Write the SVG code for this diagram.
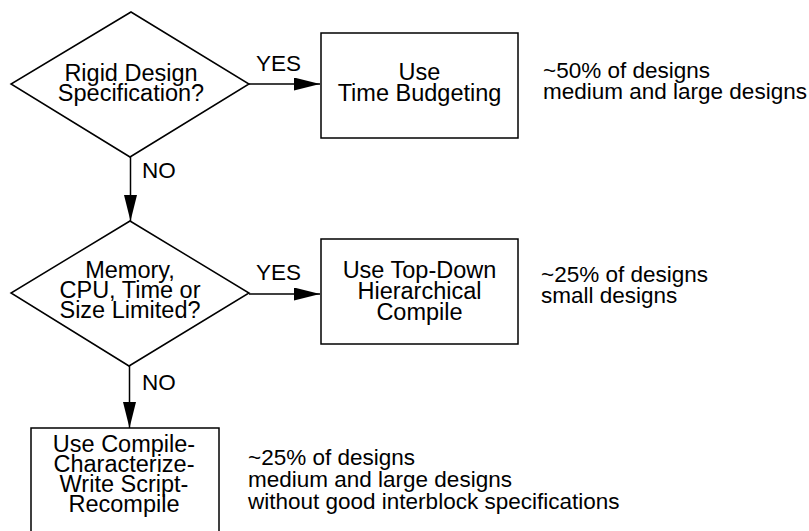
<svg xmlns="http://www.w3.org/2000/svg" width="809" height="531" viewBox="0 0 809 531">
<style>
text{font-family:"Liberation Sans",Arial,Helvetica,sans-serif;font-size:22.5px;fill:#000}
.c{text-anchor:middle;font-size:23.5px}
.shape{fill:#fff;stroke:#000;stroke-width:1.5}
.edge{stroke:#000;stroke-width:1.5;fill:none}
</style>
<defs>
<marker id="ah" markerUnits="userSpaceOnUse" markerWidth="27" markerHeight="14" refX="26" refY="6.5" orient="auto">
<path d="M0,0 L26,6.5 L0,13 z" fill="#000"/>
</marker>
</defs>
<rect width="809" height="531" fill="#fff"/>
<g id="connectors">
<line class="edge" x1="249" y1="84" x2="320" y2="84" marker-end="url(#ah)"/>
<line class="edge" x1="130.5" y1="157" x2="130.5" y2="221" marker-end="url(#ah)"/>
<line class="edge" x1="249" y1="294" x2="320" y2="294" marker-end="url(#ah)"/>
<line class="edge" x1="129.5" y1="366" x2="129.5" y2="428" marker-end="url(#ah)"/>
<text x="256" y="71">YES</text>
<text x="142" y="178">NO</text>
<text x="256" y="280">YES</text>
<text x="142" y="390">NO</text>
</g>
<g id="d1">
<polygon class="shape" points="131,12 249,84 130,157 11,84"/>
<text class="c" x="131" y="81">Rigid Design</text>
<text class="c" x="131" y="101">Specification?</text>
</g>
<g id="b1">
<rect class="shape" x="321" y="33" width="197" height="105"/>
<text class="c" x="419.5" y="80">Use</text>
<text class="c" x="419.5" y="101">Time Budgeting</text>
</g>
<g id="n1">
<text x="543" y="78">~50% of designs</text>
<text x="543" y="99">medium and large designs</text>
</g>
<g id="d2">
<polygon class="shape" points="130,221 249,293 129,366 11,293"/>
<text class="c" x="130" y="278">Memory,</text>
<text class="c" x="130" y="298">CPU, Time or</text>
<text class="c" x="130" y="318">Size Limited?</text>
</g>
<g id="b2">
<rect class="shape" x="321" y="239" width="197" height="105"/>
<text class="c" x="419.5" y="278">Use Top-Down</text>
<text class="c" x="419.5" y="299">Hierarchical</text>
<text class="c" x="419.5" y="320">Compile</text>
</g>
<g id="n2">
<text x="541" y="282">~25% of designs</text>
<text x="541" y="303">small designs</text>
</g>
<g id="b3">
<rect class="shape" x="31" y="428" width="188" height="120"/>
<text class="c" x="124" y="452">Use Compile-</text>
<text class="c" x="124" y="472">Characterize-</text>
<text class="c" x="124" y="492">Write Script-</text>
<text class="c" x="124" y="512">Recompile</text>
</g>
<g id="n3">
<text x="248" y="465">~25% of designs</text>
<text x="248" y="487">medium and large designs</text>
<text x="248" y="509">without good interblock specifications</text>
</g>
</svg>
